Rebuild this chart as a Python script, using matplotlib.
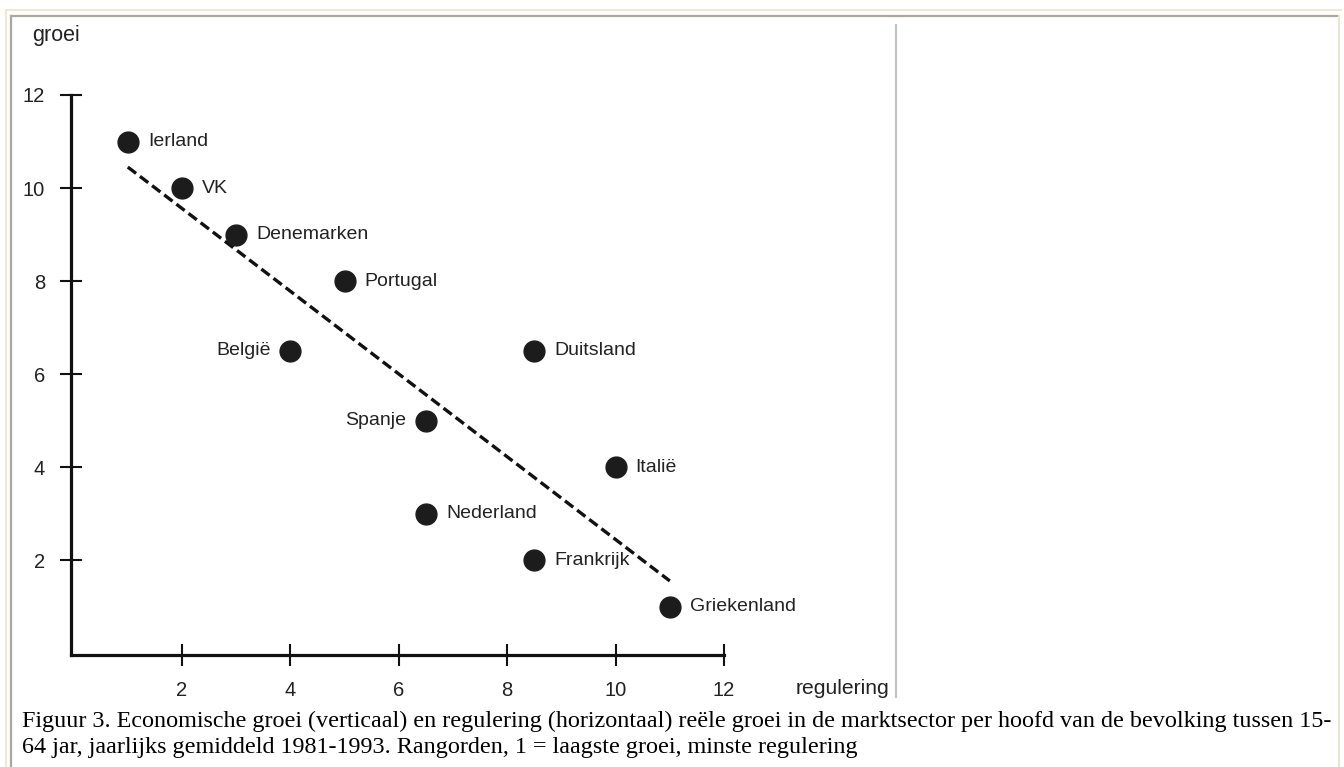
import matplotlib
matplotlib.use("Agg")
import matplotlib.pyplot as plt
from matplotlib.lines import Line2D

plt.rcParams.update({
    "font.family": ["Liberation Sans", "DejaVu Sans"],
    "lines.scale_dashes": False,
})

# data (rank of regulation vs rank of growth)
landen = ["Ierland", "VK", "Denemarken", "Portugal", "België", "Duitsland",
          "Spanje", "Italië", "Nederland", "Frankrijk", "Griekenland"]
regulering = [1, 2, 3, 5, 4, 8.5, 6.5, 10, 6.5, 8.5, 11]
groei = [11, 10, 9, 8, 6.5, 6.5, 5, 4, 3, 2, 1]
label_links = ["België", "Spanje"]

trend_x = [1, 11]
trend_y = [10.45, 1.55]

ticks = [2, 4, 6, 8, 10, 12]

caption_1 = ("Figuur 3. Economische groei (verticaal) en regulering (horizontaal) reële groei "
             "in de marktsector per hoofd van de bevolking tussen 15-")
caption_2 = "64 jar, jaarlijks gemiddeld 1981-1993. Rangorden, 1 = laagste groei, minste regulering"

W, H = 1344, 767
fig = plt.figure(figsize=(W / 100, H / 100), dpi=100)
fig.patch.set_facecolor("white")

def fx(px):
    return px / W

def fy(py):
    return 1 - py / H

# page frame + separator line
fig.add_artist(Line2D([fx(6), fx(1341)], [fy(10), fy(10)], color="#ece9d8", lw=1.5))
fig.add_artist(Line2D([fx(6), fx(6)], [fy(10), fy(767)], color="#ece9d8", lw=1.5))
fig.add_artist(Line2D([fx(11), fx(1338)], [fy(16), fy(16)], color="#aca899", lw=1.6))
fig.add_artist(Line2D([fx(11), fx(11)], [fy(16), fy(767)], color="#aca899", lw=1.6))
fig.add_artist(Line2D([fx(1339), fx(1339)], [fy(16), fy(767)], color="#e8e5d5", lw=1.5))
fig.add_artist(Line2D([fx(896), fx(896)], [fy(25), fy(697)], color="#c4c4c4", lw=1.6))

ax = fig.add_axes([fx(71), fy(655), (724 - 71) / W, (655 - 95) / H])
ax.set_xlim(-0.048, 12)
ax.set_ylim(-0.043, 12)
ax.patch.set_alpha(0)

for s in ["top", "right"]:
    ax.spines[s].set_visible(False)
for s in ["left", "bottom"]:
    ax.spines[s].set_linewidth(2.3)
    ax.spines[s].set_color("#111111")

ax.set_xticks(ticks)
ax.set_yticks(ticks)
ax.tick_params(direction="inout", length=16.5, width=1.5, color="#111111",
               labelsize=14.5, labelcolor="#222222", pad=10.5)

ax.plot(trend_x, trend_y, color="#111111", lw=2.4, dashes=(7.5, 3.5), clip_on=False)

ax.plot(regulering, groei, "o", ms=15, color="#1c1c1c", clip_on=False, zorder=5)

for naam, x, y in zip(landen, regulering, groei):
    if naam in label_links:
        ax.annotate(naam, (x, y), xytext=(-14.4, 0), textcoords="offset points",
                    ha="right", va="center", fontsize=14, color="#222222",
                    annotation_clip=False)
    else:
        ax.annotate(naam, (x, y), xytext=(14.4, 0), textcoords="offset points",
                    ha="left", va="center", fontsize=14, color="#222222",
                    annotation_clip=False)

fig.text(fx(32), fy(36), "groei", ha="left", va="center", fontsize=15.5, color="#222222")
fig.text(fx(796), fy(688), "regulering", ha="left", va="center", fontsize=15.2, color="#222222")

serif = ["Liberation Serif", "DejaVu Serif"]
fig.text(fx(22), fy(727), caption_1, ha="left", va="baseline", fontsize=17.4,
         family=serif, color="black")
fig.text(fx(22), fy(753), caption_2, ha="left", va="baseline", fontsize=17.4,
         family=serif, color="black")

fig.savefig("out.png", dpi=100)
